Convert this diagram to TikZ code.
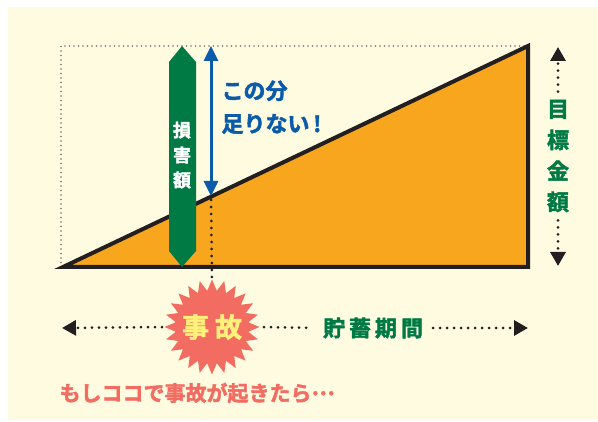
\documentclass[tikz,border=0pt]{standalone}
\usepackage{fontspec}
\newfontfamily\jp[FakeBold=2]{Noto Sans CJK JP Bold}
\usetikzlibrary{arrows.meta,shapes.geometric,positioning}
\definecolor{cream}{HTML}{FEFBE0}
\definecolor{savings}{HTML}{F8A61E}
\definecolor{ink}{HTML}{231F20}
\definecolor{leaf}{HTML}{007A45}
\definecolor{sea}{HTML}{0A5BAA}
\definecolor{salmon}{HTML}{F36C62}
\definecolor{lemon}{HTML}{FFF27A}
\tikzset{
    dotline/.style={line width=3pt, line cap=round, dash pattern=on 0pt off 7pt},
    bigtip/.style={-{Triangle[length=14pt,width=15pt]}},
    greenlabel/.style={text=leaf, font=\jp\fontsize{22}{31}\selectfont, inner sep=2pt}
}

\begin{document}
\begin{tikzpicture}[x=1pt, y=-1pt]
    % background
    \useasboundingbox (0,0) rectangle (598,422);
    \fill[cream] (8,7) rectangle (598,420);
    % target frame
    \draw[black!55, line width=1.8pt, line cap=round, dash pattern=on 0pt off 4.5pt] (61,267) -- (61,46) -- (528,46);
    % savings triangle
    \filldraw[fill=savings, draw=ink, line width=4pt, line join=miter] (63,267) -- (528,46) -- (528,267) -- cycle;
    % damage bar
    \fill[leaf] (169,62) -- (182,46) -- (196,62) -- (196,251) -- (182,267) -- (169,251) -- cycle;
    \node[text=white, font=\jp\fontsize{18}{25}\selectfont, align=center] (damage) at (182,155) {損\\害\\額};
    % shortfall arrow
    \coordinate (gaptop) at (211,46);
    \coordinate (gapbottom) at (211,196);
    \draw[sea, line width=3pt, {Triangle[length=15pt,width=14pt]}-{Triangle[length=15pt,width=14pt]}] (gaptop) -- (gapbottom);
    \node[text=sea, font=\jp\fontsize{22}{33}\selectfont, align=left, anchor=north west] (short) at (218,77) {この分\\足りない\,!};
    % accident star
    \node[star, star points=24, star point ratio=1.3, minimum size=95pt, inner sep=0pt, fill=salmon] (accident) at (212,327) {};
    \node[text=lemon, font=\jp\fontsize{27}{27}\selectfont] (accidenttext) at (accident.center) {事\hspace{6pt}故};
    \draw[ink, dotline, shorten <=4pt] (gapbottom) -- (accident.north);
    % period axis
    \coordinate (periodleft) at (62,328);
    \coordinate (periodright) at (528,328);
    \node[greenlabel] (period) at (373,328) {貯\hspace{4pt}蓄\hspace{4pt}期\hspace{4pt}間};
    \draw[ink, dotline, bigtip, shorten <=2pt] (accident.west) -- (periodleft);
    \draw[ink, dotline, shorten <=4pt, shorten >=8pt] (accident.east) -- (period.west);
    \draw[ink, dotline, bigtip, shorten <=8pt] (period.east) -- (periodright);
    % target amount
    \coordinate (goaltop) at (558,47);
    \coordinate (goalbottom) at (558,266);
    \node[greenlabel, align=center] (goal) at (558,156) {目\\標\\金\\額};
    \draw[ink, dotline, bigtip, shorten <=6pt] (goal.north) -- (goaltop);
    \draw[ink, dotline, bigtip, shorten <=6pt] (goal.south) -- (goalbottom);
    % caption
    \node[text=salmon, font=\jp\fontsize{21}{21}\selectfont, anchor=west] (caption) at (56,393) {もしココで事故が起きたら\raisebox{6pt}{…}};
\end{tikzpicture}
\end{document}
